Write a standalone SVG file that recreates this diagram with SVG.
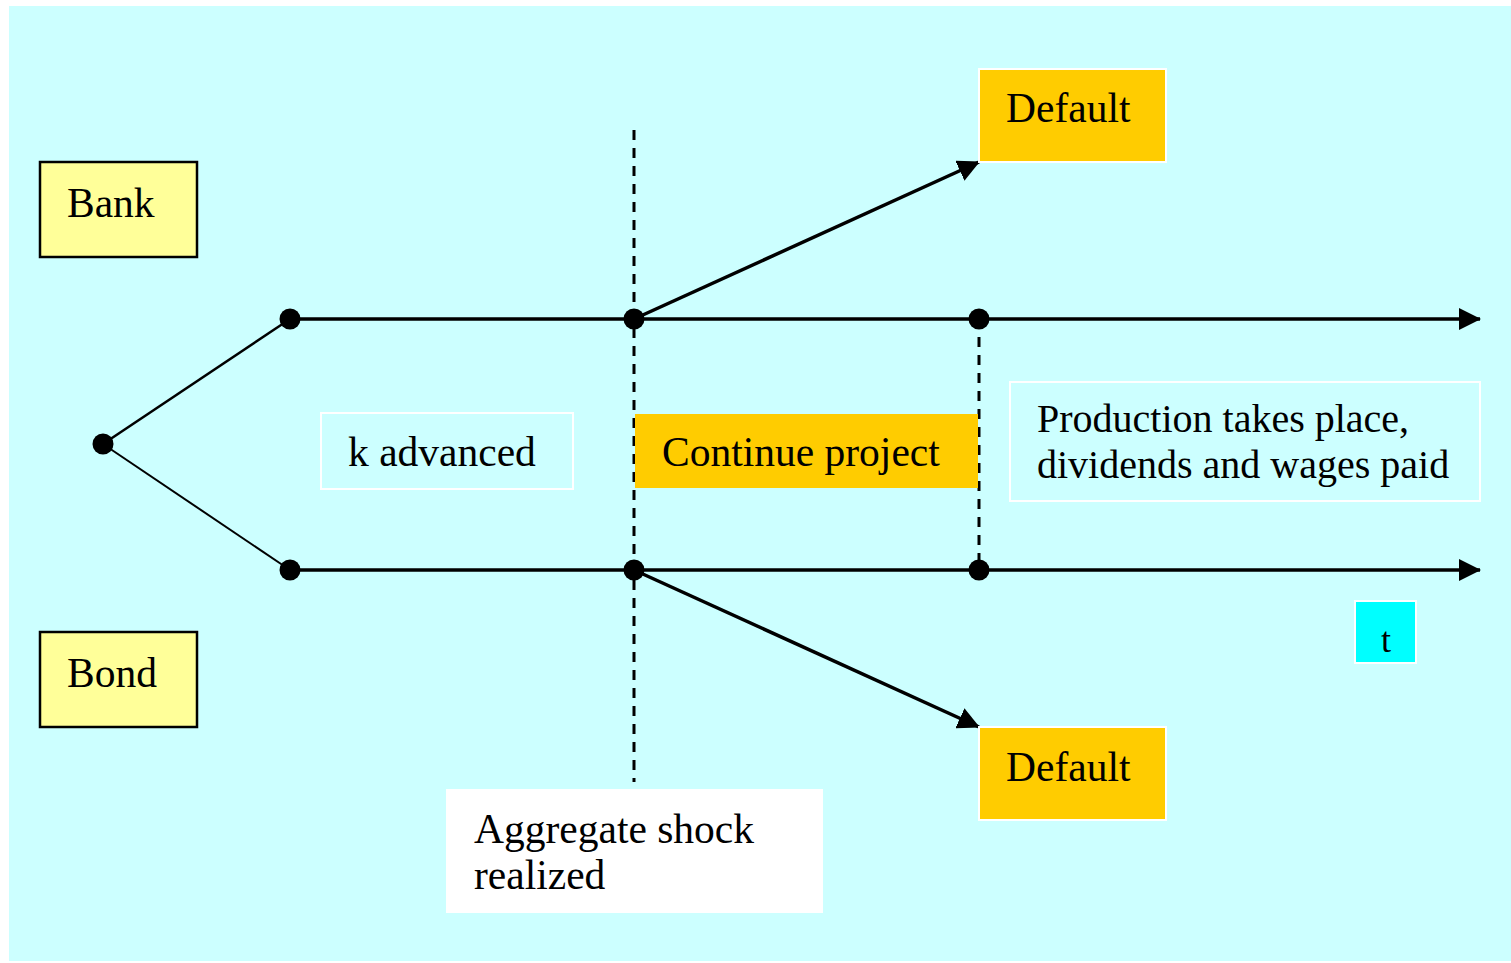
<svg xmlns="http://www.w3.org/2000/svg" width="1511" height="963" viewBox="0 0 1511 963">
<defs>
<marker id="arr" viewBox="0 0 22 22" refX="21" refY="11" markerWidth="22" markerHeight="22" markerUnits="userSpaceOnUse" orient="auto">
<path d="M0,0 L22,11 L0,22 z" fill="#000"/>
</marker>
<style>
.t{font-family:"Liberation Serif","Times New Roman",serif;font-size:41.5px;fill:#000}
.t.p{font-size:40px}
.t.s{font-size:36px}
.yb{fill:#FFFF99;stroke:#000;stroke-width:2.5}
.ob{fill:#FFCC00;stroke:#fff;stroke-width:2}
.wb{fill:none;stroke:#fff;stroke-width:2}
.ln{stroke:#000;stroke-width:3.5;fill:none}
.dash{stroke:#000;stroke-width:3;stroke-dasharray:10,8;fill:none}
.dot{fill:#000}
</style>
</defs>
<rect x="9" y="6" width="1502" height="955" fill="#CCFFFF"/>
<g id="connectors">
<line class="ln" x1="103" y1="444" x2="290" y2="319" style="stroke-width:2.5"/>
<line class="ln" x1="103" y1="444" x2="290" y2="570" style="stroke-width:2"/>
<line class="ln" x1="290" y1="319" x2="1480" y2="319" marker-end="url(#arr)"/>
<line class="ln" x1="290" y1="570" x2="1480" y2="570" marker-end="url(#arr)"/>
<line class="ln" x1="634" y1="319" x2="979" y2="162" marker-end="url(#arr)"/>
<line class="ln" x1="634" y1="570" x2="979" y2="727" marker-end="url(#arr)"/>
<line class="dash" x1="634" y1="130" x2="634" y2="782"/>
<line class="dash" x1="979" y1="319" x2="979" y2="570"/>
<circle class="dot" cx="103" cy="444" r="10.5"/>
<circle class="dot" cx="290" cy="319" r="10.5"/>
<circle class="dot" cx="290" cy="570" r="10.5"/>
<circle class="dot" cx="634" cy="319" r="10.5"/>
<circle class="dot" cx="634" cy="570" r="10.5"/>
<circle class="dot" cx="979" cy="319" r="10.5"/>
<circle class="dot" cx="979" cy="570" r="10.5"/>
</g>
<g id="bank"><rect class="yb" x="40" y="162" width="157" height="95"/><text class="t" x="67" y="217">Bank</text></g>
<g id="bond"><rect class="yb" x="40" y="632" width="157" height="95"/><text class="t" x="67" y="687">Bond</text></g>
<g id="default-top"><rect class="ob" x="979" y="69" width="187" height="93"/><text class="t" x="1006" y="122">Default</text></g>
<g id="default-bottom"><rect class="ob" x="979" y="727" width="187" height="93"/><text class="t" x="1006" y="781">Default</text></g>
<g id="k-advanced"><rect class="wb" x="321" y="413" width="252" height="76"/><text class="t" x="348" y="466">k advanced</text></g>
<g id="continue"><rect x="635" y="414" width="343" height="74" fill="#FFCC00"/><text class="t" x="662" y="466">Continue project</text></g>
<g id="production"><rect class="wb" x="1010" y="382" width="470" height="119"/><text class="t p" x="1037" y="432">Production takes place,</text><text class="t p" x="1037" y="478">dividends and wages paid</text></g>
<g id="t-label"><rect x="1355" y="601" width="61" height="62" fill="#00FFFF" stroke="#fff" stroke-width="2"/><text class="t s" x="1386" y="652" text-anchor="middle">t</text></g>
<g id="aggregate"><rect x="446" y="789" width="377" height="124" fill="#fff"/><text class="t" x="474" y="843">Aggregate shock</text><text class="t" x="474" y="889">realized</text></g>
</svg>
